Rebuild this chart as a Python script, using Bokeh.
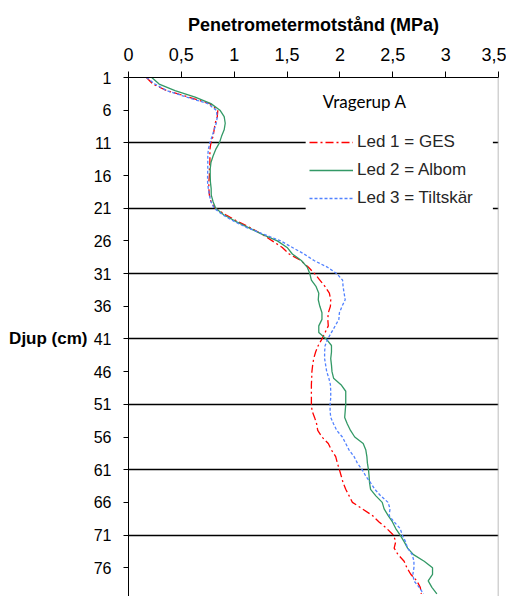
from bokeh.plotting import figure
from bokeh.models import (Range1d, FixedTicker, Legend, LegendItem, Label, Span,
                          BoxAnnotation, LinearAxis)
from bokeh.embed import file_html
from bokeh.resources import INLINE

# ---------------- data ----------------
depth_cm = list(range(1, 81))

led1_ges = [0.17, 0.23, 0.36, 0.57, 0.77, 0.845, 0.84, 0.82, 0.81, 0.80,
            0.78, 0.77, 0.77, 0.77, 0.765, 0.765, 0.76, 0.76, 0.765, 0.78,
            0.82, 0.92, 1.03, 1.155, 1.265, 1.36, 1.455, 1.52, 1.63, 1.70,
            1.76, 1.81, 1.86, 1.90, 1.913, 1.91, 1.89, 1.885, 1.89, 1.86,
            1.83, 1.795, 1.77, 1.752, 1.742, 1.735, 1.733, 1.73, 1.73, 1.73,
            1.73, 1.736, 1.76, 1.78, 1.79, 1.83, 1.89, 1.92, 1.96, 1.976,
            1.995, 2.013, 2.03, 2.055, 2.087, 2.118, 2.213, 2.307, 2.37, 2.443,
            2.506, 2.528, 2.513, 2.55, 2.607, 2.633, 2.67, 2.727, 2.76, 2.77]

led2_albom = [0.22, 0.29, 0.44, 0.63, 0.78, 0.865, 0.905, 0.915, 0.905, 0.88,
              0.86, 0.825, 0.80, 0.78, 0.773, 0.773, 0.775, 0.782, 0.783, 0.80,
              0.825, 0.90, 1.013, 1.14, 1.265, 1.408, 1.50, 1.55, 1.635, 1.69,
              1.715, 1.73, 1.775, 1.80, 1.795, 1.81, 1.83, 1.83, 1.80, 1.80,
              1.87, 1.92, 1.92, 1.913, 1.92, 1.925, 1.94, 2.01, 2.055, 2.055,
              2.055, 2.05, 2.045, 2.07, 2.10, 2.14, 2.22, 2.245, 2.255, 2.26,
              2.27, 2.276, 2.28, 2.29, 2.34, 2.40, 2.418, 2.455, 2.497, 2.528,
              2.57, 2.607, 2.64, 2.696, 2.797, 2.876, 2.876, 2.835, 2.87, 2.917]

led3_tiltskar = [0.17, 0.25, 0.36, 0.55, 0.75, 0.83, 0.84, 0.83, 0.81, 0.79,
                 0.77, 0.755, 0.75, 0.75, 0.75, 0.748, 0.748, 0.755, 0.765, 0.78,
                 0.81, 0.89, 0.997, 1.124, 1.282, 1.44, 1.55, 1.66, 1.755, 1.88,
                 1.97, 2.025, 2.03, 2.04, 2.05, 2.02, 1.995, 1.99, 1.955, 1.92,
                 1.885, 1.86, 1.855, 1.855, 1.865, 1.875, 1.895, 1.91, 1.913, 1.913,
                 1.907, 1.907, 1.913, 1.94, 1.97, 2.023, 2.055, 2.087, 2.134, 2.165,
                 2.21, 2.245, 2.29, 2.33, 2.386, 2.455, 2.474, 2.465, 2.513, 2.57,
                 2.59, 2.62, 2.64, 2.684, 2.70, 2.70, 2.69, 2.70, 2.75, 2.79]

series_names = ["Led 1 = GES", "Led 2 = Albom", "Led 3 = Tiltskär"]
legend_title = "Vragerup A"
x_title = "Penetrometermotstånd (MPa)"
y_title = "Djup (cm)"
y_title_depth = 41

x_ticks = [0, 0.5, 1, 1.5, 2, 2.5, 3, 3.5]
x_tick_labels = ["0", "0,5", "1", "1,5", "2", "2,5", "3", "3,5"]
y_ticks = [1, 6, 11, 16, 21, 26, 31, 36, 41, 46, 51, 56, 61, 66, 71, 76]
grid_depths = [11, 21, 31, 41, 51, 61, 71]

# ---------------- figure ----------------
FONT = "Liberation Sans"

p = figure(width=506, height=596, output_backend="svg", toolbar_location=None,
           x_range=Range1d(0, 3.5), y_range=Range1d(80.4, 1),
           x_axis_location="above",
           min_border_left=128, min_border_right=8,
           min_border_top=77, min_border_bottom=0)
p.outline_line_color = None
p.background_fill_color = "white"
p.border_fill_color = "white"

# top axis
xa = p.xaxis[0]
xa.ticker = FixedTicker(ticks=x_ticks)
xa.major_label_overrides = {float(t): l for t, l in zip(x_ticks, x_tick_labels)}
xa.axis_label = x_title
xa.axis_label_text_font = FONT
xa.axis_label_text_font_style = "bold"
xa.axis_label_text_font_size = "18px"
xa.axis_label_text_color = "black"
xa.axis_label_standoff = 10
xa.major_label_text_font = FONT
xa.major_label_text_font_size = "18px"
xa.major_label_text_color = "black"
xa.major_label_standoff = 11
xa.major_tick_in = 0
xa.major_tick_out = 6
xa.minor_tick_line_color = None
xa.axis_line_color = "black"
xa.major_tick_line_color = "black"

# left axis
ya = p.yaxis[0]
ya.ticker = FixedTicker(ticks=y_ticks)
ya.major_label_text_font = FONT
ya.major_label_text_font_size = "16px"
ya.major_label_text_color = "black"
ya.major_label_standoff = 12
ya.major_tick_in = 0
ya.major_tick_out = 5
ya.minor_tick_line_color = None
ya.axis_line_color = "black"
ya.major_tick_line_color = "black"

# horizontal y title, drawn as the single label of an outer left axis
ta = LinearAxis(ticker=FixedTicker(ticks=[y_title_depth]),
                major_label_overrides={y_title_depth: y_title},
                major_label_text_font=FONT, major_label_text_font_style="bold",
                major_label_text_font_size="17px",
                major_label_text_color="black",
                major_label_standoff=3, major_tick_in=0, major_tick_out=0,
                major_tick_line_color=None, minor_tick_line_color=None,
                axis_line_color=None)
p.add_layout(ta, "left")

# grid
p.xgrid.visible = False
p.ygrid.ticker = FixedTicker(ticks=grid_depths)
p.ygrid.grid_line_color = "black"
p.ygrid.grid_line_width = 1.5

# right border
p.add_layout(Span(location=3.5, dimension="height", line_color="#a6a6a6",
                  line_width=1.5))

# series
r1 = p.line(led1_ges, depth_cm, line_color="#ff0000", line_width=1.3,
            line_dash="8 3 2 3")
r2 = p.line(led2_albom, depth_cm, line_color="#339966", line_width=1.3)
r3 = p.line(led3_tiltskar, depth_cm, line_color="#5282ff", line_width=1.3,
            line_dash="3 2")

# legend background box
p.add_layout(BoxAnnotation(left=1.676, right=3.447, top=2.22, bottom=22.1,
                           fill_color="white", fill_alpha=1.0, line_color=None))

legend = Legend(items=[LegendItem(label=series_names[0], renderers=[r1]),
                       LegendItem(label=series_names[1], renderers=[r2]),
                       LegendItem(label=series_names[2], renderers=[r3])],
                location=(181, 388), glyph_width=44, glyph_height=20,
                label_height=20, spacing=8, padding=0, margin=0,
                label_standoff=4, label_text_font=FONT,
                label_text_font_size="17px", label_text_color="#262626",
                background_fill_alpha=0, border_line_alpha=0)
p.add_layout(legend)

p.add_layout(Label(x=1.837, y=4.67, text=legend_title, text_font="Lato",
                   text_font_size="17px", text_color="black",
                   text_baseline="middle", text_align="left"))

open("out.html", "w").write(file_html(p, INLINE))
